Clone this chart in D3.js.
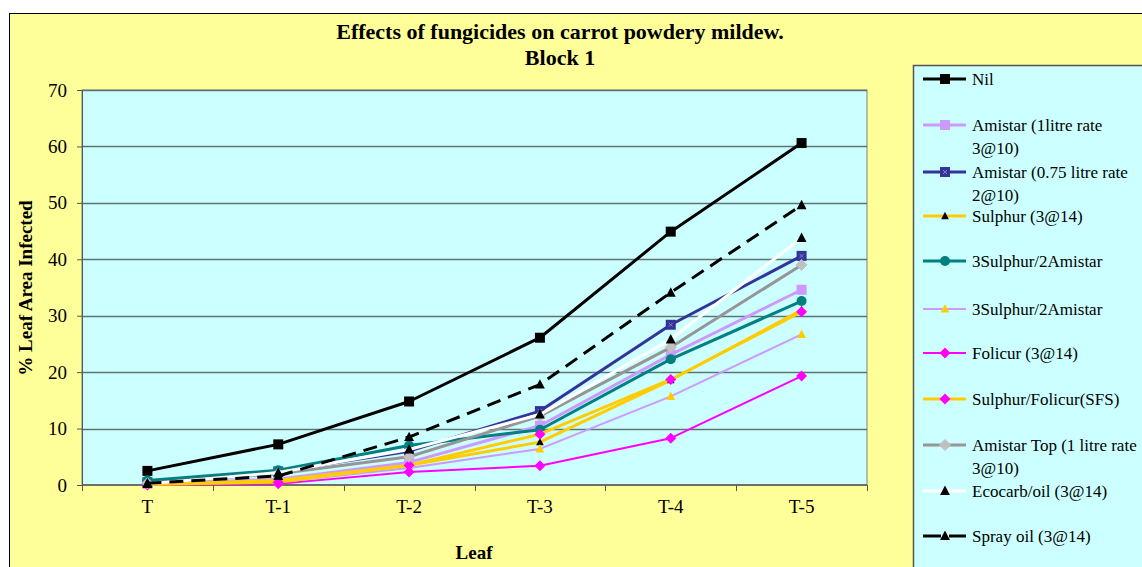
<!DOCTYPE html>
<html lang="en">
<head>
    <meta charset="UTF-8">
    <title>Effects of fungicides on carrot powdery mildew</title>
    <script src="https://d3js.org/d3.v7.min.js"></script>
    <style>
        body { margin: 0; background: #fff; }
        svg text { font-family: "Liberation Serif", "Times New Roman", serif; fill: #000; }
        .title { font-weight: bold; font-size: 22px; text-anchor: middle; }
        .axtitle { font-weight: bold; font-size: 19px; text-anchor: middle; }
        svg .tick text { font-size: 19px; }
        .legend text { font-size: 17px; }
    </style>
</head>
<body>
<svg width="1142" height="567"></svg>
<script>
    const leaves = ["T", "T-1", "T-2", "T-3", "T-4", "T-5"];
    const yTicks = [0, 10, 20, 30, 40, 50, 60, 70];

    const nil          = [2.5, 7.2, 14.8, 26.1, 44.9, 60.6];
    const amistar1     = [0.2, 1.0, 4.0, 10.5, 23.1, 34.6];
    const amistar075   = [0.5, 2.4, 6.0, 13.1, 28.4, 40.6];
    const sulphur      = [0.1, 0.8, 3.5, 7.6, 18.6, 31.0];
    const sulAmiTeal   = [0.8, 2.6, 7.0, 9.8, 22.3, 32.6];
    const sulAmiThin   = [0.0, 0.5, 3.0, 6.4, 15.7, 26.7];
    const folicur      = [0.0, 0.2, 2.3, 3.4, 8.3, 19.3];
    const sulFolicur   = [0.1, 0.5, 3.5, 9.0, 18.7, 30.7];
    const amistarTop   = [0.3, 2.0, 5.0, 12.2, 24.4, 39.0];
    const ecocarb      = [0.2, 2.2, 6.3, 12.5, 25.8, 43.8];
    const sprayOil     = [0.3, 1.6, 8.5, 17.8, 34.1, 49.6];

    const series = [
        {name: ["Nil"], values: nil, line: "#000000", w: 3, marker: "square", mfill: "#000000", ms: 10},
        {name: ["Amistar (1litre rate", "3@10)"], values: amistar1, line: "#CC99FF", w: 3, marker: "square", mfill: "#CC99FF", ms: 10},
        {name: ["Amistar (0.75 litre rate", "2@10)"], values: amistar075, line: "#333399", w: 3, marker: "square", mfill: "#333399", ms: 10, cross: true},
        {name: ["Sulphur (3@14)"], values: sulphur, line: "#FFCC00", w: 3, marker: "triangle", mfill: "#000000", ms: 7},
        {name: ["3Sulphur/2Amistar"], values: sulAmiTeal, line: "#008080", w: 3, marker: "circle", mfill: "#008080", ms: 10},
        {name: ["3Sulphur/2Amistar"], values: sulAmiThin, line: "#CC99FF", w: 2, marker: "triangle", mfill: "#FFCC00", ms: 8},
        {name: ["Folicur (3@14)"], values: folicur, line: "#FF00FF", w: 2, marker: "diamond", mfill: "#FF00FF", ms: 11},
        {name: ["Sulphur/Folicur(SFS)"], values: sulFolicur, line: "#FFCC00", w: 3, marker: "diamond", mfill: "#FF00FF", ms: 11},
        {name: ["Amistar Top (1 litre rate", "3@10)"], values: amistarTop, line: "#969696", w: 3, marker: "diamond", mfill: "#C0C0C0", ms: 11},
        {name: ["Ecocarb/oil  (3@14)"], values: ecocarb, line: "#FFFFFF", w: 3, marker: "triangle", mfill: "#000000", ms: 9},
        {name: ["Spray oil (3@14)"], values: sprayOil, line: "#000000", w: 3, marker: "triangle", mfill: "#000000", ms: 9, dash: "14,8"}
    ];

    const svg = d3.select("svg");
    const plot = {left: 82, right: 867, top: 90, bottom: 485};

    // chart area
    svg.append("rect").attr("x", 9.5).attr("y", 13.5).attr("width", 1140).attr("height", 560)
        .attr("fill", "#FFFF99").attr("stroke", "#000").attr("stroke-width", 1);

    svg.append("text").attr("class", "title").attr("x", 560).attr("y", 39)
        .text("Effects of fungicides on carrot powdery mildew.");
    svg.append("text").attr("class", "title").attr("x", 560).attr("y", 65).text("Block 1");

    const x = d3.scalePoint().domain(leaves).range([plot.left, plot.right]).padding(0.5);
    const y = d3.scaleLinear().domain([0, 70]).range([plot.bottom, plot.top]);

    svg.append("rect").attr("x", plot.left).attr("y", plot.top)
        .attr("width", plot.right - plot.left).attr("height", plot.bottom - plot.top)
        .attr("fill", "#CCFFFF").attr("stroke", "#808080").attr("stroke-width", 1);

    // gridlines
    svg.append("g").selectAll("line").data(yTicks.filter(d => d > 0 && d < 70)).join("line")
        .attr("x1", plot.left).attr("x2", plot.right)
        .attr("y1", d => Math.round(y(d)) + 0.5).attr("y2", d => Math.round(y(d)) + 0.5)
        .attr("stroke", "#5F7373").attr("stroke-width", 1.5);
    svg.append("line").attr("x1", plot.left).attr("x2", plot.right)
        .attr("y1", plot.top + 0.5).attr("y2", plot.top + 0.5).attr("stroke", "#5F7373").attr("stroke-width", 1.5);

    // y axis
    const yAxis = d3.axisLeft(y).tickValues(yTicks).tickSize(5).tickPadding(10);
    const gy = svg.append("g").attr("transform", `translate(${plot.left},0)`).call(yAxis)
        .attr("font-family", null).attr("font-size", null);
    gy.select(".domain").attr("stroke", "#555");
    gy.selectAll(".tick line").attr("stroke", "#555");

    // x axis: ticks between categories
    const step = x.step();
    const gx = svg.append("g").attr("transform", `translate(0,${plot.bottom})`);
    gx.append("line").attr("x1", plot.left).attr("x2", plot.right).attr("stroke", "#555").attr("stroke-width", 1.5);
    const bounds = d3.range(leaves.length + 1).map(i => plot.left + i * step);
    gx.selectAll("line.tk").data(bounds).join("line").attr("class", "tk")
        .attr("x1", d => Math.round(d) + 0.5).attr("x2", d => Math.round(d) + 0.5)
        .attr("y1", 0).attr("y2", 6).attr("stroke", "#555");
    gx.selectAll("text").data(leaves).join("text")
        .attr("x", d => x(d)).attr("y", 28).attr("text-anchor", "middle")
        .style("font-size", "19px").text(d => d);

    svg.append("text").attr("class", "axtitle").attr("x", 474).attr("y", 559).text("Leaf");
    svg.append("text").attr("class", "axtitle")
        .attr("transform", "translate(32,288) rotate(-90)").text("% Leaf Area Infected");

    function markerPath(type, s) {
        if (type === "square") return d3.symbol(d3.symbolSquare, s * s)();
        if (type === "circle") return d3.symbol(d3.symbolCircle, Math.PI * s * s / 4)();
        if (type === "triangle") { const h = s; return `M0,${-h * 0.6}L${s * 0.55},${h * 0.45}L${-s * 0.55},${h * 0.45}Z`; }
        if (type === "diamond") { const r = s / 2; return `M0,${-r}L${r},0L0,${r}L${-r},0Z`; }
    }

    function drawMarker(g, s) {
        g.append("path").attr("d", markerPath(s.marker, s.ms))
            .attr("fill", s.mfill)
            .attr("stroke", s.marker === "diamond" && s.mfill === "#C0C0C0" ? "#C0C0C0" : "none");
        if (s.cross) {
            g.append("path").attr("d", "M-2,-2L2,2M-2,2L2,-2").attr("stroke", "#8080C0").attr("stroke-width", 1);
        }
    }

    const line = d3.line().x((d, i) => x(leaves[i])).y(d => y(d));

    const lines = svg.append("g");
    series.forEach(s => {
        const g = lines.append("g");
        g.append("path").attr("d", line(s.values)).attr("fill", "none")
            .attr("stroke", s.line).attr("stroke-width", s.w)
            .attr("stroke-dasharray", s.dash || null).attr("stroke-linejoin", "round");
        s.values.forEach((v, i) => {
            const m = g.append("g").attr("transform", `translate(${x(leaves[i])},${y(v)})`);
            drawMarker(m, s);
        });
    });

    // legend
    const legend = svg.append("g").attr("class", "legend");
    legend.append("rect").attr("x", 913.5).attr("y", 65.5).attr("width", 240).attr("height", 520)
        .attr("fill", "#CCFFFF").attr("stroke", "#555").attr("stroke-width", 1.5);
    const legendY = [79, 125, 172, 216, 261, 309, 353, 399, 445, 491, 536];
    series.forEach((s, i) => {
        const g = legend.append("g").attr("transform", `translate(0,${legendY[i]})`);
        g.append("line").attr("x1", 923).attr("x2", 966).attr("y1", 0).attr("y2", 0)
            .attr("stroke", s.line).attr("stroke-width", s.w)
            .attr("stroke-dasharray", s.dash ? "18,8" : null);
        const m = g.append("g").attr("transform", "translate(945,0)");
        drawMarker(m, s);
        s.name.forEach((t, j) => {
            g.append("text").attr("x", 972).attr("y", 6 + j * 23).text(t);
        });
    });
</script>
</body>
</html>
